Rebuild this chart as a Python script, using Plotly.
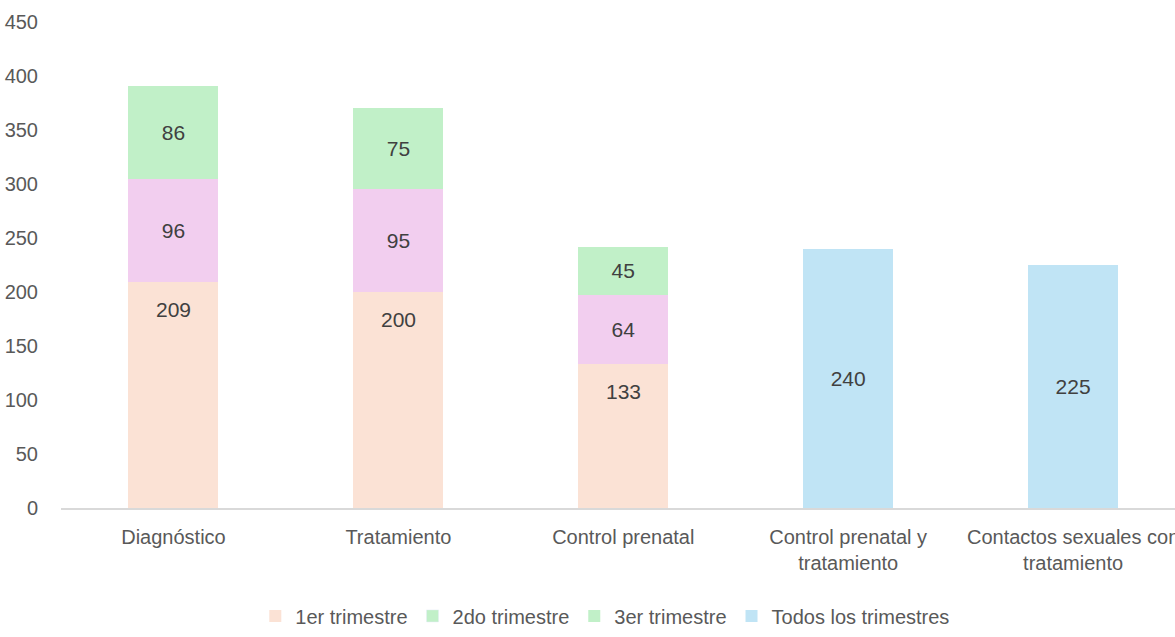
import plotly.graph_objects as go

categories = ["Diagnóstico", "Tratamiento", "Control prenatal",
              "Control prenatal y<br>tratamiento", "Contactos sexuales con<br>tratamiento"]
t1 = [209, 200, 133, None, None]
t2 = [96, 95, 64, None, None]
t3 = [86, 75, 45, None, None]
todos = [None, None, None, 240, 225]
y_ticks = [0, 50, 100, 150, 200, 250, 300, 350, 400, 450]

C1 = "#FBE2D5"
C2 = "#F2CEEF"
C3 = "#C1F0C8"
C4 = "#C0E4F5"
LBL = "#404040"
TICK = "#595959"
FONT = "Liberation Sans, Arial, sans-serif"

fig = go.Figure()
fig.add_trace(go.Bar(x=categories, y=t1, name="1er trimestre", marker_color=C1,
                     marker_line_width=0))
fig.add_trace(go.Bar(x=categories, y=t2, name="2do trimestre", marker_color=C2,
                     marker_line_width=0, showlegend=False,
                     text=[str(v) if v else "" for v in t2], textposition="inside",
                     insidetextanchor="middle",
                     textfont=dict(color=LBL, size=21, family=FONT)))
fig.add_trace(go.Bar(x=[None], y=[None], name="2do trimestre", marker_color=C3))
fig.add_trace(go.Bar(x=categories, y=t3, name="3er trimestre", marker_color=C3,
                     marker_line_width=0,
                     text=[str(v) if v else "" for v in t3], textposition="inside",
                     insidetextanchor="middle",
                     textfont=dict(color=LBL, size=21, family=FONT)))
fig.add_trace(go.Bar(x=categories, y=todos, name="Todos los trimestres", marker_color=C4,
                     marker_line_width=0,
                     text=[str(v) if v else "" for v in todos], textposition="inside",
                     insidetextanchor="middle",
                     textfont=dict(color=LBL, size=21, family=FONT)))

for c, v in zip(categories, t1):
    if v is not None:
        fig.add_annotation(x=c, y=v, yshift=-27, text=str(v), showarrow=False,
                           font=dict(color=LBL, size=21, family=FONT), yanchor="middle")

fig.update_layout(
    width=1175, height=637,
    barmode="stack", bargap=0.6,
    plot_bgcolor="white", paper_bgcolor="white",
    margin=dict(l=60.5, r=0, t=22, b=129, autoexpand=False),
    font=dict(family=FONT, color=TICK, size=19),
    legend=dict(orientation="h", x=0.4886, xanchor="center", y=-0.222, yanchor="middle",
                font=dict(size=20, color=TICK), itemwidth=30, traceorder="normal"),
    showlegend=True,
)
fig.update_xaxes(range=[-0.5, 4.453], showline=True, linecolor="#D9D9D9", linewidth=1.5,
                 showgrid=False, ticks="", tickfont=dict(size=20, color=TICK),
                 ticklabelstandoff=10, fixedrange=True, automargin=False)
fig.update_yaxes(range=[0, 450], tickvals=y_ticks, showgrid=False, zeroline=False,
                 showline=False, tickfont=dict(size=20, color=TICK),
                 ticklabelstandoff=22, fixedrange=True, automargin=False)

fig.write_html("out.html", config={"displayModeBar": False},
               post_script="document.body.style.margin='0';document.body.style.overflow='hidden';")
